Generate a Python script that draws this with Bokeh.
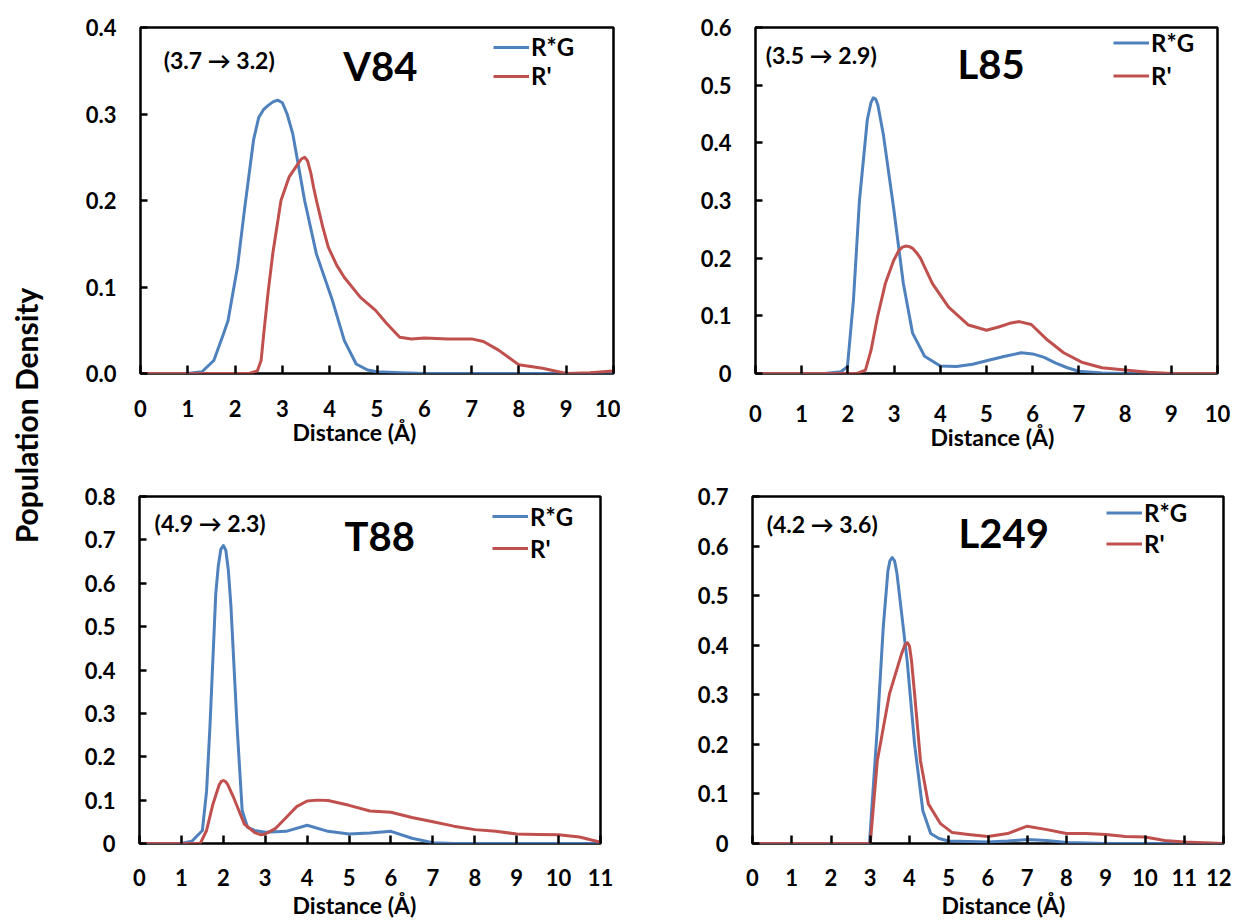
from math import pi
from bokeh.plotting import figure
from bokeh.models import (Range1d, FixedTicker, CustomJSTickFormatter, Legend,
                          LegendItem, Label, Title)
from bokeh.layouts import row, column
from bokeh.embed import file_html
from bokeh.resources import INLINE

FONT = "Lato"
BLUE = "#4F81BD"
RED = "#C0504D"

# ---------------- data ----------------
v84_x_rg = [0, 1.0, 1.3, 1.55, 1.75, 1.85, 2.05, 2.2, 2.39, 2.5, 2.6, 2.7, 2.8, 2.9, 3.0, 3.1, 3.22, 3.47, 3.72, 4.06, 4.31, 4.56, 4.8, 5.0, 5.5, 6, 7, 8, 9, 10]
v84_y_rg = [0, 0, 0.002, 0.015, 0.045, 0.061, 0.123, 0.19, 0.27, 0.296, 0.305, 0.31, 0.314, 0.316, 0.313, 0.3, 0.277, 0.2, 0.138, 0.084, 0.038, 0.011, 0.004, 0.002, 0.001, 0, 0, 0, 0, 0]
v84_x_rp = [0, 2.3, 2.47, 2.55, 2.6, 2.7, 2.8, 2.97, 3.14, 3.3, 3.4, 3.47, 3.53, 3.6, 3.66, 3.72, 3.85, 3.97, 4.15, 4.31, 4.65, 4.97, 5.2, 5.48, 5.73, 6.0, 6.5, 7.0, 7.25, 7.57, 8.0, 8.5, 9.0, 9.5, 10]
v84_y_rp = [0, 0, 0.003, 0.015, 0.043, 0.095, 0.14, 0.2, 0.227, 0.24, 0.248, 0.25, 0.246, 0.232, 0.215, 0.2, 0.17, 0.146, 0.125, 0.111, 0.088, 0.073, 0.058, 0.042, 0.04, 0.041, 0.04, 0.04, 0.037, 0.027, 0.01, 0.006, 0.0, 0.001, 0.003]

l85_x_rg = [0, 1.5, 1.85, 1.99, 2.12, 2.25, 2.42, 2.5, 2.55, 2.6, 2.65, 2.77, 2.99, 3.2, 3.4, 3.66, 4.0, 4.35, 4.7, 5.0, 5.4, 5.75, 6.0, 6.25, 6.5, 6.75, 7.0, 7.5, 8, 9, 10]
l85_y_rg = [0, 0, 0.003, 0.012, 0.127, 0.3, 0.44, 0.47, 0.478, 0.476, 0.465, 0.413, 0.287, 0.156, 0.07, 0.03, 0.013, 0.012, 0.016, 0.022, 0.03, 0.036, 0.034, 0.028, 0.018, 0.01, 0.004, 0.001, 0, 0, 0]
l85_x_rp = [0, 2.2, 2.38, 2.5, 2.64, 2.81, 2.99, 3.1, 3.18, 3.25, 3.33, 3.4, 3.5, 3.57, 3.83, 4.18, 4.61, 5.0, 5.28, 5.5, 5.71, 5.97, 6.32, 6.67, 7.08, 7.5, 8.0, 8.5, 9.0, 10]
l85_y_rp = [0, 0, 0.006, 0.04, 0.098, 0.156, 0.196, 0.213, 0.219, 0.221, 0.22, 0.217, 0.208, 0.2, 0.156, 0.115, 0.084, 0.075, 0.081, 0.087, 0.09, 0.085, 0.058, 0.036, 0.019, 0.01, 0.006, 0.002, 0, 0]

t88_x_rg = [0, 1.0, 1.25, 1.5, 1.6, 1.68, 1.82, 1.88, 1.94, 2.0, 2.06, 2.12, 2.18, 2.33, 2.45, 2.58, 2.75, 3.0, 3.5, 4.0, 4.5, 5.0, 5.5, 6.0, 6.5, 7.0, 7.5, 8, 9, 10, 11]
t88_y_rg = [0, 0, 0.005, 0.03, 0.12, 0.267, 0.576, 0.64, 0.678, 0.687, 0.676, 0.63, 0.55, 0.267, 0.076, 0.037, 0.03, 0.026, 0.028, 0.042, 0.028, 0.022, 0.024, 0.028, 0.012, 0.002, 0, 0, 0, 0, 0]
t88_x_rp = [0, 1.45, 1.6, 1.75, 1.9, 1.95, 2.0, 2.05, 2.1, 2.25, 2.5, 2.75, 2.9, 3.0, 3.25, 3.5, 3.75, 4.0, 4.25, 4.5, 5.0, 5.5, 6.0, 6.5, 7.0, 7.5, 8.0, 8.5, 9.0, 9.5, 10.0, 10.5, 11]
t88_y_rp = [0, 0, 0.03, 0.09, 0.135, 0.143, 0.145, 0.143, 0.137, 0.105, 0.045, 0.025, 0.02, 0.022, 0.035, 0.06, 0.085, 0.098, 0.1, 0.099, 0.088, 0.075, 0.072, 0.06, 0.05, 0.04, 0.032, 0.028, 0.022, 0.021, 0.02, 0.015, 0.003]

l249_x_rg = [0, 2.98, 3.18, 3.33, 3.45, 3.5, 3.56, 3.62, 3.68, 3.74, 3.94, 4.13, 4.34, 4.54, 4.75, 5.0, 6.0, 6.5, 7.0, 7.5, 8.0, 9, 10, 11, 12]
l249_y_rg = [0, 0, 0.234, 0.435, 0.55, 0.57, 0.577, 0.57, 0.545, 0.504, 0.369, 0.2, 0.066, 0.02, 0.01, 0.005, 0.003, 0.005, 0.008, 0.006, 0.002, 0, 0, 0, 0]
l249_x_rp = [0, 3.0, 3.18, 3.49, 3.8, 3.88, 3.95, 4.0, 4.05, 4.13, 4.28, 4.48, 4.79, 5.09, 5.5, 6.0, 6.5, 7.0, 7.5, 8.0, 8.5, 9.0, 9.5, 10.0, 10.5, 11, 12]
l249_y_rp = [0, 0, 0.167, 0.302, 0.383, 0.4, 0.405, 0.398, 0.37, 0.302, 0.167, 0.08, 0.04, 0.022, 0.018, 0.014, 0.02, 0.035, 0.028, 0.02, 0.02, 0.018, 0.014, 0.013, 0.006, 0.003, 0]

series_names = ["R*G", "R'"]
panel_titles = ["V84", "L85", "T88", "L249"]
panel_notes = ["(3.7 \u2192 3.2)", "(3.5 \u2192 2.9)", "(4.9 \u2192 2.3)", "(4.2 \u2192 3.6)"]
x_max = [10, 10, 11, 12]
y_max = [0.4, 0.6, 0.8, 0.7]
y_ticks = [[0, 0.1, 0.2, 0.3, 0.4],
           [0, 0.1, 0.2, 0.3, 0.4, 0.5, 0.6],
           [0, 0.1, 0.2, 0.3, 0.4, 0.5, 0.6, 0.7, 0.8],
           [0, 0.1, 0.2, 0.3, 0.4, 0.5, 0.6, 0.7]]
x_label = "Distance (\u00c5)"
y_label = "Population Density"


def make_panel(i, xs_rg, ys_rg, xs_rp, ys_rp, width, height, bl, br, bt, bb,
               zero_fmt, xstand, xlab_offset, xlab_standoff, note_pos, title_pos,
               leg_loc, leg_h):
    p = figure(width=width, height=height, output_backend="svg", toolbar_location=None,
               x_range=Range1d(0, x_max[i]), y_range=Range1d(0, y_max[i]),
               min_border_left=bl, min_border_right=br, min_border_top=bt,
               min_border_bottom=bb)
    p.grid.visible = False
    p.outline_line_color = "black"
    p.outline_line_width = 2.5
    p.background_fill_color = "white"
    p.border_fill_color = "white"

    r1 = p.line(xs_rg, ys_rg, line_color=BLUE, line_width=3, line_join="round")
    r2 = p.line(xs_rp, ys_rp, line_color=RED, line_width=3, line_join="round")

    for ax in (p.xaxis[0], p.yaxis[0]):
        ax.axis_line_color = None
        ax.major_tick_line_color = "black"
        ax.major_tick_line_width = 2.5
        ax.major_tick_out = 0
        ax.minor_tick_line_color = None
        ax.major_label_text_font = FONT
        ax.major_label_text_font_style = "bold"
        ax.major_label_text_font_size = "22px"
        ax.major_label_text_color = "black"

    p.xaxis.ticker = FixedTicker(ticks=list(range(0, x_max[i] + 1)))
    p.xaxis.major_tick_in = 8
    p.xaxis.major_label_standoff = xstand

    p.yaxis.ticker = FixedTicker(ticks=y_ticks[i])
    p.yaxis.major_tick_in = 7
    p.yaxis.major_label_standoff = 24
    if zero_fmt:
        p.yaxis.formatter = CustomJSTickFormatter(code="return tick.toFixed(1);")
    else:
        p.yaxis.formatter = CustomJSTickFormatter(
            code="return Math.abs(tick) < 1e-9 ? '0' : tick.toFixed(1);")

    p.add_layout(Title(text=x_label, align="left", offset=xlab_offset,
                       standoff=xlab_standoff,
                       text_font=FONT, text_font_style="bold", text_font_size="23px",
                       text_color="black"), "below")
    p.add_layout(Label(x=note_pos[0], y=note_pos[1], text=panel_notes[i],
                       text_font=FONT, text_font_style="bold", text_font_size="23px",
                       text_align="left", text_baseline="middle", text_color="black"))
    p.add_layout(Label(x=title_pos[0], y=title_pos[1], text=panel_titles[i],
                       text_font=FONT, text_font_style="bold", text_font_size="40px",
                       text_align="center", text_baseline="middle", text_color="black"))

    legend = Legend(items=[LegendItem(label=series_names[0], renderers=[r1]),
                           LegendItem(label=series_names[1], renderers=[r2])],
                    location=leg_loc, padding=0, margin=0, spacing=0,
                    glyph_width=36, glyph_height=leg_h, label_height=leg_h,
                    label_standoff=2,
                    label_text_font=FONT, label_text_font_style="bold",
                    label_text_font_size="24px", label_text_baseline="middle",
                    label_text_color="black",
                    background_fill_alpha=0, border_line_color=None)
    p.add_layout(legend)
    return p


p1 = make_panel(0, v84_x_rg, v84_y_rg, v84_x_rp, v84_y_rp, 550, 460, 70, 7, 27, 87,
                True, 26, 152, -8, (0.49, 0.362), (5.07, 0.356), (353, 283), 28)
p2 = make_panel(1, l85_x_rg, l85_y_rg, l85_x_rp, l85_y_rp, 611, 460, 135, 14, 24, 86,
                False, 31, 175, -8, (0.22, 0.552), (5.1, 0.537), (358, 281), 33)
p3 = make_panel(2, t88_x_rg, t88_y_rg, t88_x_rp, t88_y_rp, 550, 462, 69, 20, 36, 79,
                False, 25, 153, 0, (0.36, 0.74), (5.73, 0.71), (353, 279), 32)
p4 = make_panel(3, l249_x_rg, l249_y_rg, l249_x_rp, l249_y_rp, 611, 462, 132, 8, 36, 79,
                False, 25, 189, 0, (0.36, 0.645), (6.4, 0.627), (354, 284), 31)

lab = figure(width=70, height=922, output_backend="svg", toolbar_location=None,
             x_range=Range1d(0, 70), y_range=Range1d(0, 922), min_border=0,
             x_axis_location=None, y_axis_location=None)
lab.grid.visible = False
lab.outline_line_color = None
lab.add_layout(Label(x=25, y=507, text=y_label, angle=pi / 2, text_font=FONT,
                     text_font_style="bold", text_font_size="30px",
                     text_align="center", text_baseline="middle", text_color="black"))

layout = row(lab, column(row(p1, p2), row(p3, p4)))

open("out.html", "w").write(file_html(layout, INLINE))
